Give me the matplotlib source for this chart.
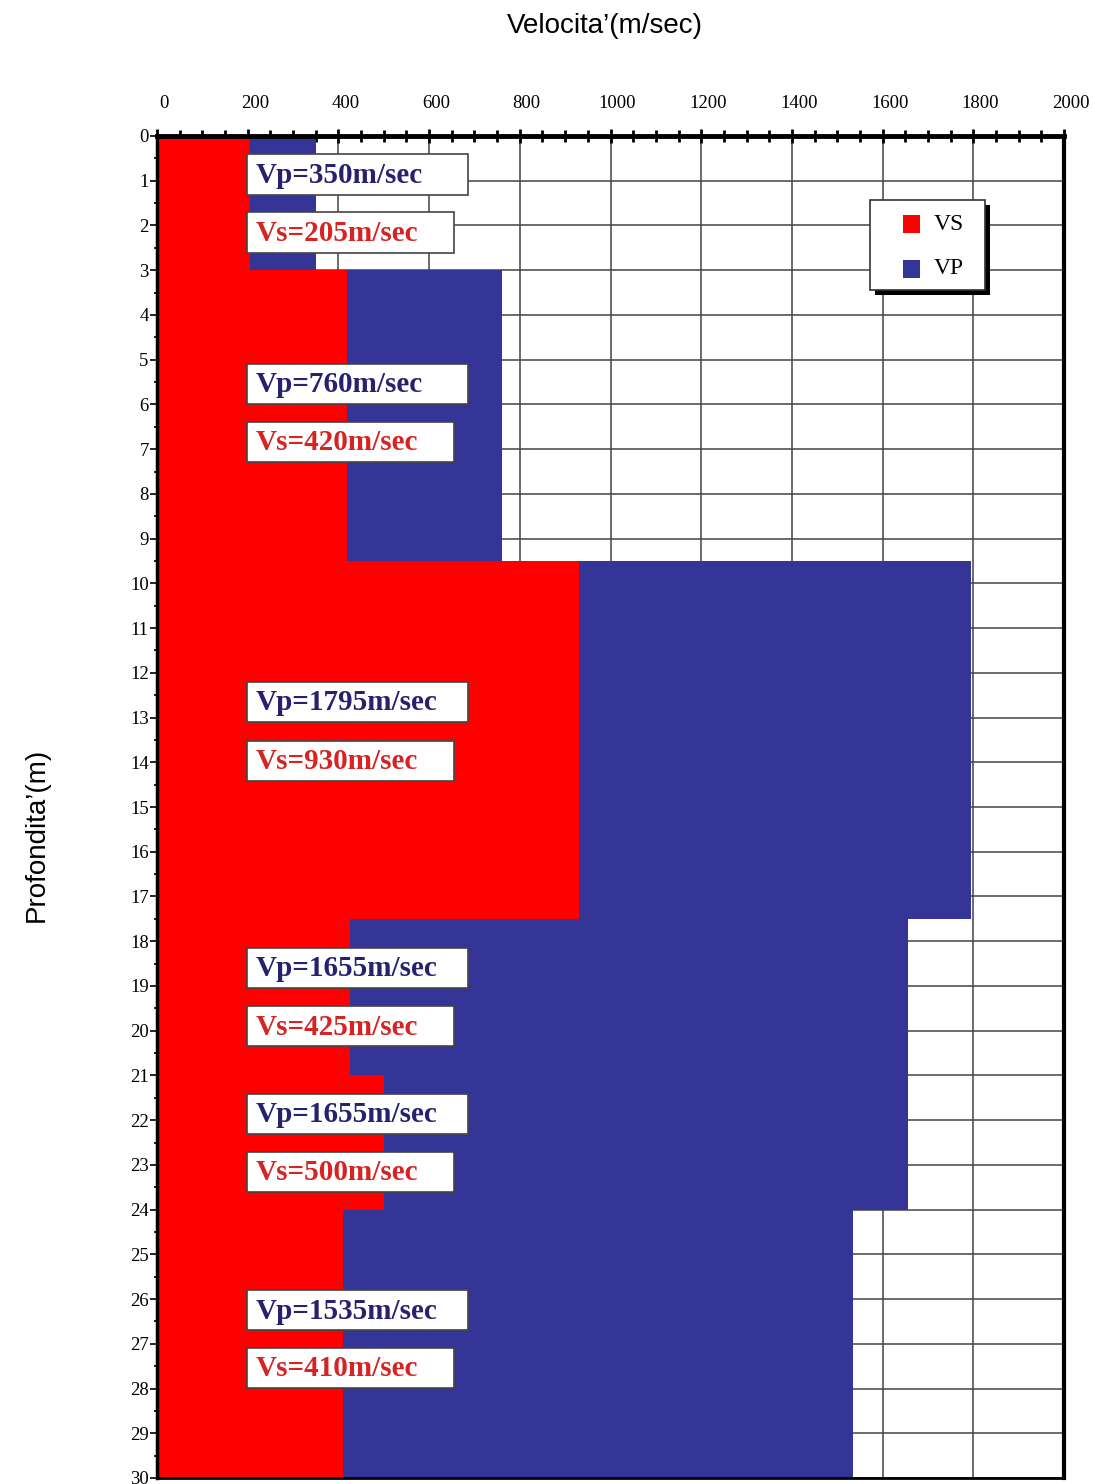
#!/usr/bin/env python

import numpy as np
import matplotlib.pyplot as plt
import matplotlib.transforms as mtransforms
from matplotlib.patches import Rectangle
from matplotlib.ticker import MultipleLocator

# layer data
tops = [0, 3, 9.5, 17.5, 21, 24]
bottoms = [3, 9.5, 17.5, 21, 24, 30]
vp_drawn = [350, 760, 1795, 1655, 1655, 1535]
vs_drawn = [205, 420, 930, 425, 500, 410]
vp_labels = ['Vp=350m/sec', 'Vp=760m/sec', 'Vp=1795m/sec',
             'Vp=1655m/sec', 'Vp=1655m/sec', 'Vp=1535m/sec']
vs_labels = ['Vs=205m/sec', 'Vs=420m/sec', 'Vs=930m/sec',
             'Vs=425m/sec', 'Vs=500m/sec', 'Vs=410m/sec']
vp_label_depth = [0.86, 5.54, 12.65, 18.6, 21.86, 26.25]
vs_label_depth = [2.16, 6.84, 13.97, 19.9, 23.16, 27.54]
legend_names = ['VS', 'VP']

red = '#ff0000'
blue = '#353598'

fig = plt.figure(figsize=(10.93, 14.84), dpi=100)
ax = fig.add_axes([157/1093, 6/1484, 907/1093, 1342/1484])

thick = np.array(bottoms) - np.array(tops)
ax.barh(tops, vp_drawn, height=thick, align='edge', color=blue, zorder=2)
ax.barh(tops, vs_drawn, height=thick, align='edge', color=red, zorder=3)

ax.set_xlim(0, 2000)
ax.set_ylim(30, 0)

# grid
ax.set_axisbelow(True)
ax.grid(True, which='major', color='#444444', linewidth=1.1, zorder=0)

# label boxes
for i in range(len(tops)):
    ax.add_patch(Rectangle((198, vp_label_depth[i] - 0.45), 488, 0.9,
                           facecolor='white', edgecolor='#444444',
                           linewidth=1.2, zorder=4))
    ax.text(218, vp_label_depth[i] + 0.02, vp_labels[i], color='#27216e',
            fontsize=21, fontweight='bold', family='Liberation Serif',
            va='center', ha='left', zorder=5)
    ax.add_patch(Rectangle((198, vs_label_depth[i] - 0.45), 457, 0.9,
                           facecolor='white', edgecolor='#444444',
                           linewidth=1.2, zorder=4))
    ax.text(218, vs_label_depth[i] + 0.02, vs_labels[i], color='#d62424',
            fontsize=21, fontweight='bold', family='Liberation Serif',
            va='center', ha='left', zorder=5)

# ticks
ax.xaxis.tick_top()
ax.xaxis.set_major_locator(MultipleLocator(200))
ax.xaxis.set_minor_locator(MultipleLocator(50))
ax.yaxis.set_major_locator(MultipleLocator(1))
ax.yaxis.set_minor_locator(MultipleLocator(0.5))
ax.tick_params(axis='x', which='major', direction='inout', length=10,
               width=2, labelsize=13.5, pad=12)
ax.tick_params(axis='x', which='minor', direction='inout', length=8,
               width=2)
ax.tick_params(axis='y', which='major', direction='out', length=5,
               width=1.2, labelsize=13.5, pad=1)
ax.tick_params(axis='y', which='minor', direction='inout', length=5,
               width=1.2)
shift = mtransforms.ScaledTranslation(7/100, 0, fig.dpi_scale_trans)
for lab in ax.get_xticklabels():
    lab.set_family('Liberation Serif')
    lab.set_transform(lab.get_transform() + shift)
for lab in ax.get_yticklabels():
    lab.set_family('Liberation Serif')

for side, w in [('top', 3.5), ('left', 2.5), ('right', 3), ('bottom', 2)]:
    ax.spines[side].set_linewidth(w)
    ax.spines[side].set_zorder(6)

# legend box (drawn by hand to match the boxed, shadowed look)
tr = ax.transAxes
lx0, lx1 = (870 - 157)/907, (985 - 157)/907
ly1, ly0 = 1 - (200 - 136)/1342, 1 - (290 - 136)/1342
sx, sy = 5/907, 5/1342
ax.add_patch(Rectangle((lx0 + sx, ly0 - sy), lx1 - lx0, ly1 - ly0,
                       transform=tr, facecolor='black', edgecolor='none',
                       zorder=7))
ax.add_patch(Rectangle((lx0, ly0), lx1 - lx0, ly1 - ly0, transform=tr,
                       facecolor='white', edgecolor='#333333',
                       linewidth=1.2, zorder=8))
for name, col, yp in zip(legend_names, [red, blue], [224, 269]):
    yc = 1 - (yp - 136)/1342
    ax.add_patch(Rectangle(((903 - 157)/907, yc - 8.5/1342), 17/907,
                           17/1342, transform=tr, facecolor=col,
                           edgecolor='none', zorder=9))
    ax.text((934 - 157)/907, yc, name, transform=tr, fontsize=17,
            family='Liberation Serif', va='center', ha='left', zorder=9)

fig.text(605/1093, 1 - 26/1484, 'Velocita\u2019(m/sec)', ha='center',
         va='center', fontsize=20, family='Liberation Sans')
fig.text(37/1093, 1 - 835/1484, 'Profondita\u2019(m)', ha='center',
         va='center', fontsize=20, family='Liberation Sans', rotation=90)

fig.savefig('out.png', dpi=100)
